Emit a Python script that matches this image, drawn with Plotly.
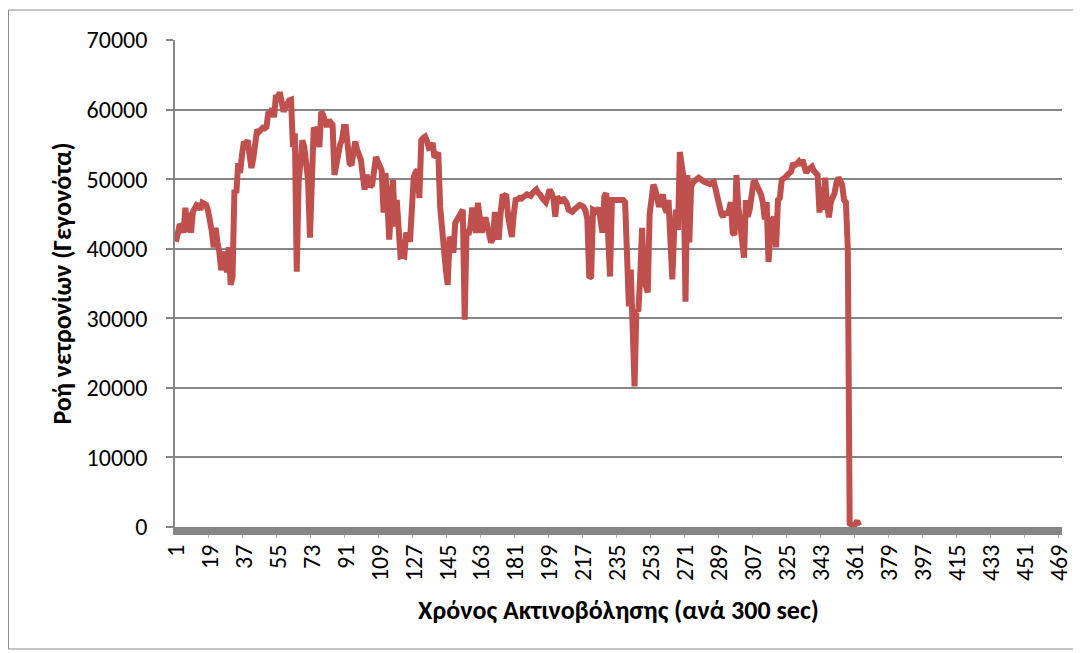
import plotly.graph_objects as go

# ---- data ----
neutron_flux = [
    41000, 43000, 43500, 43200, 42300, 45900, 42400, 45200, 42300, 45300,
    46000, 46300, 46200, 45600, 46600, 46400, 46300, 45500, 44200, 42500,
    40200, 43000, 40900, 39500, 36900, 38500, 39600, 36600, 40200, 34800,
    36000, 48500, 48000, 52300, 50900, 53500, 55400, 55000, 55600, 53500,
    51600, 53000, 54600, 57100, 56800, 57000, 57400, 57300, 57500, 59700,
    59000, 60200, 58900, 62100, 61500, 62500, 61000, 59700, 60400, 61100,
    61300, 61400, 54600, 56600, 36700, 49500, 53000, 55600, 54600, 52000,
    49900, 41600, 54600, 57400, 57000, 57400, 54600, 59700, 59200, 58500,
    57500, 58500, 58000, 57800, 50600, 52500, 53900, 55000, 55600, 57500,
    57500, 55000, 52300, 52000, 54500, 55400, 54200, 53500, 52800, 50500,
    48500, 50600, 49500, 48900, 49200, 51500, 53200, 52500, 52000, 51300,
    45200, 50900, 47000, 41300, 46000, 49900, 43200, 47000, 43000, 38900,
    39000, 38900, 42300, 42000, 41000, 45200, 50300, 51000, 51300, 47300,
    55600, 55900, 56100, 55500, 54500, 54600, 55200, 53100, 53500, 53800,
    46000, 42000, 39900, 37000, 34800, 41700, 41000, 39400, 43700, 44200,
    44800, 45300, 45600, 29800, 42700, 42000, 43200, 45900, 44000, 42300,
    46600, 44500, 42300, 43500, 44500, 43200, 42000, 40900, 41500, 45300,
    43500, 41300, 45000, 47500, 47600, 47800, 44600, 42500, 41700, 45000,
    47000, 47100, 47300, 47200, 47500, 47600, 47800, 47700, 47600, 48000,
    48300, 48500, 48000, 47800, 47300, 47000, 46700, 47500, 48500, 48000,
    47300, 44600, 47500, 47000, 46600, 47300, 47000, 46600, 45600, 45500,
    45300, 45600, 45900, 46000, 46300, 46200, 46000, 45500, 44200, 35800,
    36000, 45600, 45500, 45300, 45900, 44500, 42300, 47500, 48000, 42000,
    36000, 47000, 47000, 47000, 47000, 47100, 47200, 47000, 46700, 37400,
    31700, 37000, 30000, 20200, 31300, 31000, 36000, 43000, 35600, 34500,
    33700, 45000, 47500, 49200, 48500, 47000, 46000, 47000, 47800, 45900,
    45200, 47000, 41000, 35600, 42700, 45600, 42700, 53900, 52000, 50200,
    32400, 50600, 40900, 48900, 49500, 49900, 50000, 50200, 50100, 49800,
    49600, 49500, 49500, 49300, 49500, 49600, 48500, 47000, 45700, 45000,
    44600, 45300, 44900, 45500, 46700, 42300, 42000, 50600, 46000, 43700,
    40300, 38700, 47000, 44600, 45600, 47500, 49500, 49600, 49000, 48200,
    47800, 46600, 44200, 46700, 38100, 42000, 44200, 44500, 40200, 47000,
    47300, 49900, 50000, 50300, 50600, 50800, 51100, 52300, 52000, 52200,
    52500, 52000, 52800, 51800, 50900, 51400, 51600, 51800, 51200, 50900,
    50600, 45200, 48800, 45600, 50200, 46300, 44500, 46700, 47300, 48000,
    49500, 50200, 49800, 49200, 47000, 46700, 40000, 500, 300, 200,
    400, 900, 200,
]
n_categories = 470
time_steps = list(range(1, len(neutron_flux) + 1))
tick_values = [1, 19, 37, 55, 73, 91, 109, 127, 145, 163, 181, 199, 217, 235,
               253, 271, 289, 307, 325, 343, 361, 379, 397, 415, 433, 451, 469]
tick_labels = [str(v) for v in tick_values]
boundary_ticks = [k + 0.5 for k in range(18, n_categories, 18)]

x_title = "Χρόνος Ακτινοβόλησης (ανά 300 sec)"
y_title = "Ροή νετρονίων (Γεγονότα)"

FONT = "Calibri, Carlito, 'Open Sans', sans-serif"
GRAY = "#868686"

fig = go.Figure()
fig.add_trace(go.Scatter(
    x=time_steps, y=neutron_flux, mode="lines",
    line=dict(color="#C0504D", width=6),
    showlegend=False, hoverinfo="x+y",
))

# the page adds an 8px body margin, so the figure is 8px smaller on each side
fig.update_layout(
    width=1073, height=645,
    margin=dict(l=167, r=19, t=32, b=126),
    paper_bgcolor="white", plot_bgcolor="white",
    font=dict(family=FONT, color="black", size=24),
    xaxis=dict(
        range=[0.5, n_categories + 0.5],
        tickmode="array", tickvals=tick_values, ticktext=tick_labels,
        tickangle=-90, ticks="", showgrid=False, zeroline=False,
        showline=True, linecolor=GRAY, linewidth=8,
        tickfont=dict(size=24), automargin=False,
        minor=dict(tickmode="array", tickvals=boundary_ticks, ticks="outside",
                   ticklen=3, tickcolor="#b0b0b0", tickwidth=1, showgrid=False),
        title=dict(text=x_title, font=dict(size=26, family=FONT, weight="bold"),
                   standoff=24),
    ),
    yaxis=dict(
        range=[0, 70000], dtick=10000, tick0=0, tickformat="d",
        showgrid=True, gridcolor=GRAY, gridwidth=1.5, zeroline=False,
        showline=True, linecolor=GRAY, linewidth=1.5,
        ticks="outside", ticklen=7, tickcolor=GRAY, tickwidth=1.5,
        tickfont=dict(size=24), ticklabelstandoff=14, automargin=False,
        title=dict(text=y_title, font=dict(size=26, family=FONT, weight="bold"),
                   standoff=8),
    ),
)

# chart border
fig.add_shape(type="rect", xref="paper", yref="paper",
              x0=-0.1877, x1=1.0158, y0=-0.2505, y1=1.0616,
              line=dict(color="#8c8c8c", width=1), fillcolor="rgba(0,0,0,0)",
              layer="below")

fig.write_html("out.html")
